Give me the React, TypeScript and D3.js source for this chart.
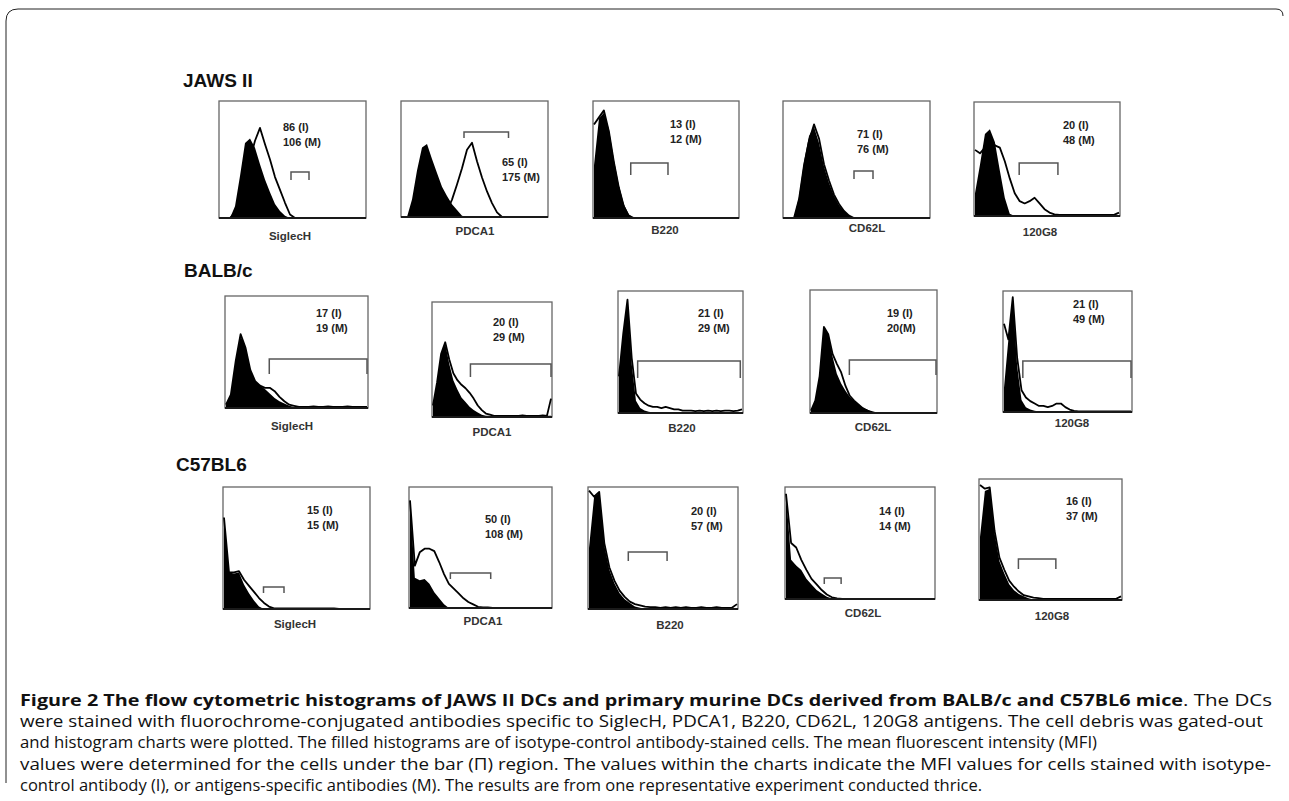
import React from "react";
import * as d3 from "d3";

// markers and strains
const markers = ["SiglecH", "PDCA1", "B220", "CD62L", "120G8"];
const strains = ["JAWS II", "BALB/c", "C57BL6"];

// MFI annotations (I = isotype, M = antibody)
const jawsIsoText = ["86 (I)", "65 (I)", "13 (I)", "71 (I)", "20 (I)"];
const jawsMabText = ["106 (M)", "175 (M)", "12 (M)", "76 (M)", "48 (M)"];
const balbIsoText = ["17 (I)", "20 (I)", "21 (I)", "19 (I)", "21 (I)"];
const balbMabText = ["19 (M)", "29 (M)", "29 (M)", "20(M)", "49 (M)"];
const c57IsoText = ["15 (I)", "50 (I)", "20 (I)", "14 (I)", "16 (I)"];
const c57MabText = ["15 (M)", "108 (M)", "57 (M)", "14 (M)", "37 (M)"];

// histogram counts (% of max), 30 channels each
const jawsSiglecIso = [0, 0, 0, 10, 36, 64, 68, 60, 46, 33, 22, 12, 6, 2, 0, 0, 0, 0, 0, 0, 0, 0, 0, 0, 0, 0, 0, 0, 0, 0];
const jawsSiglecMab = [0, 0, 0, 5, 18, 35, 50, 66, 77, 63, 50, 35, 24, 13, 3, 0, 0, 0, 0, 0, 0, 0, 0, 0, 0, 0, 0, 0, 0, 0];
const jawsPdcaIso = [0, 0, 15, 40, 60, 63, 50, 38, 26, 18, 11, 6, 1, 0, 0, 0, 0, 0, 0, 0, 0, 0, 0, 0, 0, 0, 0, 0, 0, 0];
const jawsPdcaMab = [0, 0, 0, 0, 0, 0, 0, 0, 0, 5, 15, 28, 42, 58, 64, 48, 34, 22, 12, 4, 0, 0, 0, 0, 0, 0, 0, 0, 0, 0];
const jawsB220Iso = [45, 85, 90, 76, 50, 28, 12, 3, 0, 0, 0, 0, 0, 0, 0, 0, 0, 0, 0, 0, 0, 0, 0, 0, 0, 0, 0, 0, 0, 0];
const jawsB220Mab = [80, 86, 92, 74, 48, 26, 10, 2, 0, 0, 0, 0, 0, 0, 0, 0, 0, 0, 0, 0, 0, 0, 0, 0, 0, 0, 0, 0, 0, 0];
const jawsCd62Iso = [0, 0, 0, 18, 48, 70, 78, 64, 44, 30, 19, 11, 6, 2, 0, 0, 0, 0, 0, 0, 0, 0, 0, 0, 0, 0, 0, 0, 0, 0];
const jawsCd62Mab = [0, 0, 0, 16, 45, 66, 80, 68, 46, 32, 20, 12, 6, 2, 0, 0, 0, 0, 0, 0, 0, 0, 0, 0, 0, 0, 0, 0, 0, 0];
const jaws120Iso = [20, 45, 72, 76, 65, 40, 16, 2, 0, 0, 0, 0, 0, 0, 0, 0, 0, 0, 0, 0, 0, 0, 0, 0, 0, 0, 0, 0, 0, 0];
const jaws120Mab = [58, 55, 60, 68, 62, 60, 48, 33, 20, 13, 11, 13, 16, 11, 6, 3, 1.5, 1, 1, 1, 1, 1, 1, 1, 1, 1, 1, 1, 1, 3];

const balbSiglecIso = [3, 12, 42, 64, 55, 34, 24, 20, 17, 13, 9, 6, 4, 2, 1, 1, 1, 0.5, 1, 0.5, 0.5, 1, 0.5, 0.5, 0.5, 1, 0.5, 0.5, 0.5, 0.5];
const balbSiglecMab = [3, 12, 42, 66, 54, 34, 24, 20, 18, 18, 15, 10, 6, 3, 2, 1, 1, 1, 1.5, 1, 1, 1.5, 1, 1, 1, 1.5, 1, 1, 1, 1];
const balbPdcaIso = [10, 30, 55, 64, 46, 32, 24, 17, 13, 9, 6, 4, 2, 1, 1, 1, 1, 1, 1, 1, 1, 1, 1, 1, 1, 1, 1, 1, 1, 1];
const balbPdcaMab = [10, 30, 55, 65, 50, 38, 32, 28, 25, 21, 16, 10, 6, 3, 2, 1, 1, 1, 1, 1, 1, 1, 1.5, 1, 1, 1, 1, 1.5, 1, 16];
const balbB220Iso = [30, 65, 92, 40, 10, 4, 2, 1, 0.5, 0.5, 0.5, 0.5, 0.5, 0.5, 0.5, 0.5, 0.5, 0.5, 0.5, 0.5, 0.5, 0.5, 0.5, 0.5, 0.5, 0.5, 0.5, 0.5, 0.5, 0.5];
const balbB220Mab = [30, 65, 93, 45, 16, 11, 8, 6, 5, 5, 4, 5, 4, 3, 3, 2, 2, 2, 1.5, 2, 1.5, 2, 1.5, 2, 1.5, 2, 2, 1.5, 2, 3];
const balbCd62Iso = [2, 10, 30, 70, 64, 46, 32, 24, 18, 13, 10, 7, 4, 3, 1, 0, 0, 0, 0, 0, 0, 0, 0, 0, 0, 0, 0, 0, 0, 0];
const balbCd62Mab = [2, 10, 30, 70, 64, 48, 40, 33, 22, 14, 10, 7, 4, 2, 1, 0, 0, 0, 0, 0, 0, 0, 0, 0, 0, 0, 0, 0, 0, 0];
const balb120Iso = [20, 60, 95, 38, 10, 4, 2, 1, 0.5, 0.5, 0.5, 0.5, 0.5, 0.5, 0.5, 0.5, 0.5, 0.5, 0.5, 0.5, 0.5, 0.5, 0.5, 0.5, 0.5, 0.5, 0.5, 0.5, 0.5, 0.5];
const balb120Mab = [73, 60, 95, 45, 18, 12, 9, 7, 5, 5, 4, 5, 7, 7, 4, 2, 1, 0.5, 0.5, 0.5, 0.5, 0.5, 0.5, 0.5, 0.5, 0.5, 0.5, 0.5, 0.5, 0.5];

const c57SiglecIso = [75, 30, 29, 30, 20, 13, 7, 2, 0, 0, 0, 0, 0, 0, 0, 0, 0, 0, 0, 0, 0, 0, 0, 0, 0, 0, 0, 0, 0, 0];
const c57SiglecMab = [75, 30, 30, 31, 24, 19, 14, 9, 5, 2, 0.5, 0.5, 0.5, 0.5, 0.5, 0.5, 0.5, 0.5, 0.5, 0.5, 0.5, 0.5, 0.5, 0, 0, 0, 0, 0, 0, 0];
const c57PdcaIso = [89, 25, 23, 24, 20, 13, 8, 3, 0, 0, 0, 0, 0, 0, 0, 0, 0, 0, 0, 0, 0, 0, 0, 0, 0, 0, 0, 0, 0, 0];
const c57PdcaMab = [89, 35, 46, 49, 49, 47, 38, 28, 20, 16, 12, 8, 5, 3, 1, 0.5, 0.5, 0, 0, 0, 0, 0, 0, 0, 0, 0, 0, 0, 0, 0];
const c57B220Iso = [50, 92, 95, 52, 32, 21, 13, 8, 5, 2, 1, 0, 0, 0, 0, 0, 0, 0, 0, 0, 0, 0, 0, 0, 0, 0, 0, 0, 0, 0];
const c57B220Mab = [97, 92, 96, 54, 34, 23, 15, 10, 6, 4, 3, 2, 1.5, 1.5, 1, 1.5, 1, 1.5, 1, 1.5, 1, 1, 1.5, 1, 1, 1.5, 1, 1, 1, 4];
const c57Cd62Iso = [94, 35, 30, 26, 18, 13, 8, 5, 2, 0.5, 0, 0, 0, 0, 0, 0, 0, 0, 0, 0, 0, 0, 0, 0, 0, 0, 0, 0, 0, 0];
const c57Cd62Mab = [94, 50, 46, 35, 26, 18, 13, 8, 4, 1.5, 0.5, 0, 0, 0, 0, 0, 0, 0, 0, 0, 0, 0, 0, 0, 0, 0, 0, 0, 0, 0];
const c57120Iso = [52, 90, 92, 55, 32, 22, 13, 8, 5, 3, 1.5, 0.5, 0, 0, 0, 0, 0, 0, 0, 0, 0, 0, 0, 0, 0, 0, 0, 0, 0, 0];
const c57120Mab = [95, 92, 93, 57, 35, 25, 16, 11, 7, 4, 3, 2, 1.5, 1, 1, 1, 1, 1, 1, 1, 1, 1, 1, 1, 1, 1, 1, 1, 1, 3];

// gate (bar) ranges in channel units
const jawsGates = [[14.2, 17.8], [12.4, 21.3], [7.4, 14.9], [14.0, 17.8], [8.9, 16.7]];
const balbGates = [[8.9, 29], [9.2, 29], [4.4, 28.6], [8.9, 29], [4.3, 29]];
const c57Gates = [[7.9, 12.0], [8.3, 16.6], [7.7, 15.3], [7.5, 10.8], [7.9, 15.6]];

const captionBold = "Figure 2 The flow cytometric histograms of JAWS II DCs and primary murine DCs derived from BALB/c and C57BL6 mice";
const captionLines = [
  "were stained with fluorochrome-conjugated antibodies specific to SiglecH, PDCA1, B220, CD62L, 120G8 antigens. The cell debris was gated-out",
  "and histogram charts were plotted. The filled histograms are of isotype-control antibody-stained cells. The mean fluorescent intensity (MFI)",
  "values were determined for the cells under the bar (П) region. The values within the charts indicate the MFI values for cells stained with isotype-",
  "control antibody (I), or antigens-specific antibodies (M). The results are from one representative experiment conducted thrice.",
];
const captionWidths = [1243, 1077, 1251, null];

const rows = [
  {
    iso: [jawsSiglecIso, jawsPdcaIso, jawsB220Iso, jawsCd62Iso, jaws120Iso],
    mab: [jawsSiglecMab, jawsPdcaMab, jawsB220Mab, jawsCd62Mab, jaws120Mab],
    isoText: jawsIsoText, mabText: jawsMabText, gates: jawsGates,
  },
  {
    iso: [balbSiglecIso, balbPdcaIso, balbB220Iso, balbCd62Iso, balb120Iso],
    mab: [balbSiglecMab, balbPdcaMab, balbB220Mab, balbCd62Mab, balb120Mab],
    isoText: balbIsoText, mabText: balbMabText, gates: balbGates,
  },
  {
    iso: [c57SiglecIso, c57PdcaIso, c57B220Iso, c57Cd62Iso, c57120Iso],
    mab: [c57SiglecMab, c57PdcaMab, c57B220Mab, c57Cd62Mab, c57120Mab],
    isoText: c57IsoText, mabText: c57MabText, gates: c57Gates,
  },
];

// layout: panel boxes [l, t, r, b], label centre, annotation position, gate y / tick
const boxes = [
  [[219, 101, 366, 218], [401, 101, 548, 217], [593, 101, 739, 218], [783, 101, 930, 218], [974, 102, 1120, 216]],
  [[225, 296, 368, 408], [432, 302, 552, 417], [618, 291, 743, 413], [810, 290, 937, 413], [1003, 291, 1132, 412]],
  [[223, 487, 370, 609], [409, 487, 552, 608], [588, 487, 738, 609], [785, 487, 935, 599], [979, 479, 1122, 600]],
];
const labelPos = [
  [[290, 236], [475, 231], [665, 230], [867, 228], [1040, 232]],
  [[292, 426], [492, 432], [682, 428], [873, 427], [1072, 423]],
  [[295, 624], [483, 621], [670, 625], [863, 613], [1052, 616]],
];
const notePos = [
  [[283, 127], [502, 162], [670, 124], [857, 134], [1063, 125]],
  [[316, 313], [493, 322], [698, 313], [887, 313], [1073, 304]],
  [[307, 510], [485, 519], [691, 511], [879, 511], [1066, 501]],
];
const gatePos = [
  [[172, 8], [132, 6], [163, 12], [171, 8], [163, 12]],
  [[359, 15], [364, 13], [361, 17], [360, 15], [361, 17]],
  [[587, 6], [573, 6], [552, 9], [578, 6], [559, 10]],
];
const titlePos = [[183, 80], [184, 270], [176, 464]];

const panelFont = "'Liberation Sans', Arial, sans-serif";

function Panel({ box, iso, mab, label, lpos, isoText, mabText, npos, gate, gpos }) {
  const [l, t, r, b] = box;
  const x = d3.scaleLinear().domain([0, 29]).range([l + 1, r - 1]);
  const y = d3.scaleLinear().domain([0, 100]).range([b, t]);
  const area = d3.area<number>().x((_, i) => x(i)).y0(b).y1((d) => y(d));
  const line = d3.line<number>().x((_, i) => x(i)).y((d) => y(d));
  const [gy, gt] = gpos;
  const gx0 = x(gate[0]);
  const gx1 = x(gate[1]);
  return (
    <g>
      <rect x={l} y={t} width={r - l} height={b - t} fill="#fff" stroke="#666" strokeWidth={1.3} />
      <path d={area(iso) || ""} fill="#000" />
      <path d={line(mab) || ""} fill="none" stroke="#000" strokeWidth={1.8} strokeLinejoin="round" />
      <line x1={l} x2={r} y1={b} y2={b} stroke="#1a1a1a" strokeWidth={2} />
      <path
        d={`M${gx0},${gy + gt} V${gy} H${gx1} V${gy + gt}`}
        fill="none"
        stroke="#555"
        strokeWidth={1.5}
      />
      <text x={npos[0]} y={npos[1]} dy="0.35em" fontFamily={panelFont} fontWeight="bold" fontSize={11} fill="#222">
        {isoText}
      </text>
      <text x={npos[0]} y={npos[1] + 15} dy="0.35em" fontFamily={panelFont} fontWeight="bold" fontSize={11} fill="#222">
        {mabText}
      </text>
      <text x={lpos[0]} y={lpos[1]} dy="0.35em" textAnchor="middle" fontFamily={panelFont} fontWeight="bold" fontSize={11.5} fill="#333">
        {label}
      </text>
    </g>
  );
}

export default function App() {
  const capFont = "'Open Sans', 'Noto Sans', sans-serif";
  return (
    <div style={{ position: "absolute", left: 0, top: 0 }}>
      <svg width={1289} height={801} style={{ display: "block", background: "#fff" }}>
        <path d="M6,783 V21 Q6,9 18,9 H1276 Q1283,9 1283,16" fill="none" stroke="#222" strokeWidth={1} />
        {strains.map((s, ri) => (
          <text
            key={s}
            x={titlePos[ri][0]}
            y={titlePos[ri][1]}
            dy="0.35em"
            fontFamily={panelFont}
            fontWeight="bold"
            fontSize={19}
            fill="#111"
          >
            {s}
          </text>
        ))}
        {rows.map((row, ri) =>
          markers.map((m, ci) => (
            <Panel
              key={`${ri}-${ci}`}
              box={boxes[ri][ci]}
              iso={row.iso[ci]}
              mab={row.mab[ci]}
              label={m}
              lpos={labelPos[ri][ci]}
              isoText={row.isoText[ci]}
              mabText={row.mabText[ci]}
              npos={notePos[ri][ci]}
              gate={row.gates[ci]}
              gpos={gatePos[ri][ci]}
            />
          ))
        )}
        <text x={20} y={706} fontFamily={capFont} fontWeight="bold" fontSize={16.5} fill="#111" textLength={1163} lengthAdjust="spacingAndGlyphs">
          {captionBold}
        </text>
        <text x={1183} y={706} fontFamily={capFont} fontSize={16.5} fill="#111" textLength={89} lengthAdjust="spacingAndGlyphs">
          . The DCs
        </text>
        {captionLines.map((c, i) => (
          <text
            key={i}
            x={20}
            y={727 + i * 21.3}
            fontFamily={capFont}
            fontSize={16.5}
            fill="#111"
            {...(captionWidths[i] ? { textLength: captionWidths[i], lengthAdjust: "spacingAndGlyphs" } : {})}
          >
            {c}
          </text>
        ))}
      </svg>
    </div>
  );
}
